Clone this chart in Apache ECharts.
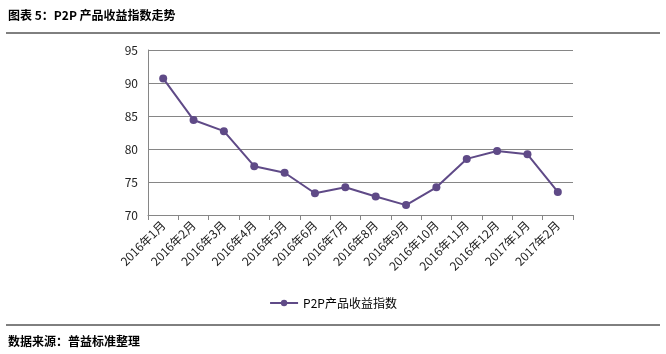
<!DOCTYPE html>
<html>
<head>
<meta charset="utf-8">
<script src="https://cdn.jsdelivr.net/npm/echarts@6/dist/echarts.min.js"></script>
<style>
html,body{margin:0;padding:0;background:#fff;}
#main{width:666px;height:354px;}
</style>
</head>
<body>
<div id="main"></div>
<script>
// 图表数据
var months = ['2016年1月','2016年2月','2016年3月','2016年4月','2016年5月','2016年6月','2016年7月',
  '2016年8月','2016年9月','2016年10月','2016年11月','2016年12月','2017年1月','2017年2月'];
var yieldIndex = [90.7, 84.4, 82.7, 77.4, 76.4, 73.3, 74.2, 72.8, 71.5, 74.2, 78.5, 79.7, 79.2, 73.5];
var seriesName = 'P2P产品收益指数';

var font = '"Noto Sans CJK SC", "DejaVu Sans", sans-serif';
var chart = echarts.init(document.getElementById('main'), null, {renderer: 'canvas'});

var option = {
  animation: false,
  backgroundColor: '#fff',
  textStyle: {fontFamily: font},
  grid: {left: 148, right: 93, top: 50, bottom: 139},
  legend: {
    data: [seriesName],
    bottom: 40,
    left: 'center',
    itemWidth: 28,
    itemHeight: 8,
    textStyle: {fontSize: 12, color: '#000', fontFamily: font}
  },
  xAxis: {
    type: 'category',
    data: months,
    boundaryGap: true,
    axisLine: {lineStyle: {color: '#868686', width: 1}},
    axisTick: {show: true, length: 5, lineStyle: {color: '#868686'}},
    axisLabel: {rotate: 45, fontSize: 12, color: '#222', margin: 8, fontFamily: font}
  },
  yAxis: {
    type: 'value',
    min: 70,
    max: 95,
    interval: 5,
    axisLine: {show: true, lineStyle: {color: '#868686', width: 1}},
    axisTick: {show: false},
    axisLabel: {fontSize: 12, color: '#222', margin: 10, fontFamily: font},
    splitLine: {lineStyle: {color: '#868686', width: 1}}
  },
  series: [{
    name: seriesName,
    type: 'line',
    data: yieldIndex,
    symbol: 'circle',
    symbolSize: 8,
    itemStyle: {color: '#5f4a87'},
    lineStyle: {color: '#5f4a87', width: 2}
  }],
  graphic: [
    {type: 'text', left: 8, top: 9,
      style: {text: '图表 5：P2P 产品收益指数走势', font: 'bold 12px ' + font, fill: '#000'}},
    {type: 'line', shape: {x1: 6, y1: 33, x2: 660, y2: 33}, style: {stroke: '#000', lineWidth: 1}},
    {type: 'line', shape: {x1: 6, y1: 325, x2: 660, y2: 325}, style: {stroke: '#000', lineWidth: 1}},
    {type: 'text', left: 8, top: 335,
      style: {text: '数据来源：普益标准整理', font: 'bold 12px ' + font, fill: '#000'}}
  ]
};
chart.setOption(option);
</script>
</body>
</html>
